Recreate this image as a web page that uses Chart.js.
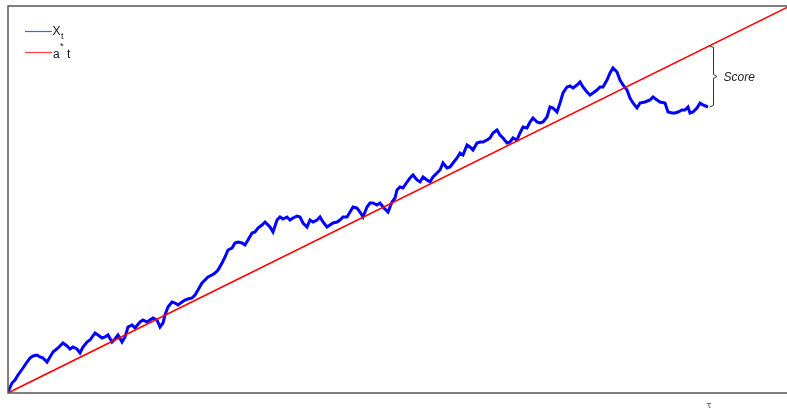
<!DOCTYPE html>
<html>
<head>
<meta charset="utf-8">
<script src="https://cdn.jsdelivr.net/npm/chart.js@4/dist/chart.umd.min.js"></script>
<style>
  html, body { margin: 0; padding: 0; background: #ffffff; }
  #wrap { width: 787px; height: 409px; position: relative; }
</style>
</head>
<body>
<div id="wrap"><canvas id="c"></canvas></div>
<script>
// Sample path X_t: time steps and values
const pathT = [
  0,4,7,10,15,19,22,25,29,32,
  35,39,42,45,50,55,59,62,65,69,
  72,75,79,82,87,90,94,97,100,104,
  107,110,114,117,120,124,127,132,135,139,
  142,145,149,152,155,157,160,164,167,170,
  174,177,180,184,187,190,194,197,200,204,
  207,210,214,217,220,224,227,230,234,237,
  240,244,247,250,254,257,262,265,269,272,
  275,279,282,285,289,292,295,299,302,305,
  309,312,315,319,322,325,329,332,335,339,
  342,345,349,352,355,359,362,365,369,372,
  375,380,384,387,389,392,395,399,402,405,
  409,412,415,419,422,425,429,432,435,439,
  442,445,449,452,455,459,462,465,469,472,
  475,479,482,485,489,492,495,499,502,505,
  509,512,515,519,522,525,529,532,535,539,
  542,545,549,552,555,559,562,565,569,572,
  575,579,582,585,589,592,595,599,602,605,
  609,612,615,619,622,625,629,632,637,642,
  645,649,652,657,660,664,667,670,674,677,
  680,682,685,689,692,695,700
];
const pathX = [
  1,10,13,18,25,31,35,37,38,36,
  35,31,36,41,45,50,47,44,46,44,
  40,46,51,53,60,58,55,56,58,51,
  54,58,51,56,66,68,65,71,73,71,
  73,75,73,66,70,78,86,91,90,88,
  91,93,94,95,98,103,110,113,116,118,
  120,123,130,136,143,145,150,151,150,148,
  153,160,161,165,168,171,166,161,173,176,
  174,176,173,175,177,176,170,166,173,171,
  173,176,171,166,168,170,171,173,176,176,
  181,186,185,181,176,186,190,190,188,190,
  186,181,191,195,203,206,205,211,215,218,
  213,211,216,213,211,216,220,223,230,225,
  226,230,235,240,238,248,246,243,250,251,
  251,253,255,260,263,258,255,250,251,255,
  253,260,266,265,271,275,271,270,271,276,
  286,285,281,290,300,306,307,305,308,311,
  306,301,298,300,303,306,306,313,320,325,
  321,313,308,303,295,290,285,290,291,293,
  296,293,291,290,281,280,280,281,283,283,
  286,280,281,285,290,288,286
];

// Reference line a* t: endpoints
const lineT = [0, 779];
const lineX = [0, 385.6];

// Stopping time and axis extents
const tau = 701;
const tMax = 779;
const xMax = 387;

const pathPoints = pathT.map((t, i) => ({ x: t, y: pathX[i] }));
const linePoints = lineT.map((t, i) => ({ x: t, y: lineX[i] }));

function lineValueAt(t) {
  const f = (t - lineT[0]) / (lineT[1] - lineT[0]);
  return lineX[0] + f * (lineX[1] - lineX[0]);
}

const decorations = {
  id: 'decorations',
  afterDatasetsDraw(chart) {
    const ctx = chart.ctx;
    const a = chart.chartArea;
    const xs = chart.scales.x, ys = chart.scales.y;
    ctx.save();

    // frame: left, top and bottom edges
    ctx.strokeStyle = '#555555';
    ctx.lineWidth = 1.5;
    ctx.beginPath();
    ctx.moveTo(a.right + 1, a.top);
    ctx.lineTo(a.left, a.top);
    ctx.lineTo(a.left, a.bottom);
    ctx.lineTo(a.right + 1, a.bottom);
    ctx.stroke();

    // legend
    const lx0 = 25, lx1 = 52;
    ctx.lineWidth = 1.2;
    ctx.strokeStyle = '#5555ff';
    ctx.beginPath(); ctx.moveTo(lx0, 31.5); ctx.lineTo(lx1, 31.5); ctx.stroke();
    ctx.strokeStyle = '#ff4444';
    ctx.beginPath(); ctx.moveTo(lx0, 52.5); ctx.lineTo(lx1, 52.5); ctx.stroke();

    ctx.fillStyle = '#111111';
    ctx.textBaseline = 'alphabetic';
    ctx.textAlign = 'left';
    ctx.font = '12px "Liberation Sans", Arial, sans-serif';
    ctx.fillText('X', 52.5, 34.5);
    ctx.font = '9px "Liberation Sans", Arial, sans-serif';
    ctx.fillText('t', 61, 39);
    ctx.font = '12px "Liberation Sans", Arial, sans-serif';
    ctx.fillText('a', 53, 57.5);
    ctx.font = '9px "Liberation Sans", Arial, sans-serif';
    ctx.fillText('*', 60, 49);
    ctx.font = '12px "Liberation Sans", Arial, sans-serif';
    ctx.fillText('t', 67, 57.5);

    // brace between a* tau and X_tau
    const topY = ys.getPixelForValue(lineValueAt(tau));
    const botY = ys.getPixelForValue(pathX[pathX.length - 1]);
    const bx = xs.getPixelForValue(tau) + 4.5;
    const midY = (topY + botY) / 2;
    ctx.strokeStyle = '#333333';
    ctx.lineWidth = 1;
    ctx.beginPath();
    ctx.moveTo(bx - 4, topY);
    ctx.lineTo(bx, topY + 1.5);
    ctx.lineTo(bx, midY - 2);
    ctx.lineTo(bx + 3.5, midY);
    ctx.lineTo(bx, midY + 2);
    ctx.lineTo(bx, botY - 1.5);
    ctx.lineTo(bx - 4, botY);
    ctx.stroke();

    ctx.fillStyle = '#222222';
    ctx.font = 'italic 12px "Liberation Sans", Arial, sans-serif';
    ctx.textBaseline = 'middle';
    ctx.fillText('Score', bx + 10, midY + 1);

    // tick label at tau
    ctx.font = '9px "DejaVu Sans", sans-serif';
    ctx.textAlign = 'center';
    ctx.textBaseline = 'middle';
    ctx.fillStyle = '#555555';
    ctx.fillText('\u03c4', xs.getPixelForValue(tau), 406);

    ctx.restore();
  }
};

new Chart(document.getElementById('c'), {
  type: 'line',
  data: {
    datasets: [
      {
        label: 'a* t',
        data: linePoints,
        borderColor: '#ff0000',
        borderWidth: 1.6,
        pointRadius: 0,
        tension: 0
      },
      {
        label: 'X_t',
        data: pathPoints,
        borderColor: '#0000ff',
        borderWidth: 3,
        pointRadius: 0,
        tension: 0,
        borderJoinStyle: 'miter'
      }
    ]
  },
  options: {
    responsive: true,
    maintainAspectRatio: false,
    animation: false,
    devicePixelRatio: 1,
    layout: { padding: { left: 8, top: 6, right: 0, bottom: 16 } },
    plugins: { legend: { display: false }, tooltip: { enabled: false } },
    scales: {
      x: { type: 'linear', min: 0, max: tMax, display: false },
      y: { type: 'linear', min: 0, max: xMax, display: false }
    }
  },
  plugins: [decorations]
});
</script>
</body>
</html>
